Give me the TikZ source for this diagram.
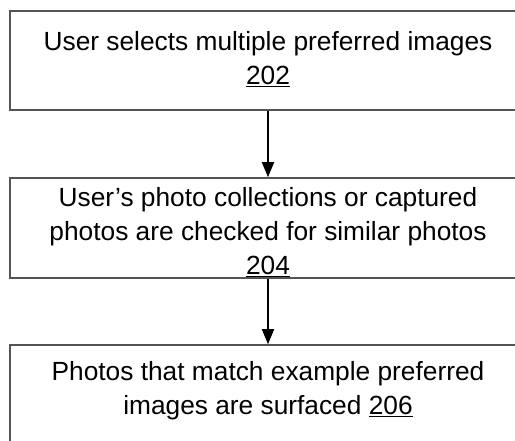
\documentclass[tikz,border=0pt]{standalone}
\usepackage{fontspec}
\setmainfont{Liberation Sans}
\usetikzlibrary{positioning}
\usetikzlibrary{arrows.meta}
\definecolor{rahmen}{gray}{0.33}

\begin{document}
\begin{tikzpicture}[x=1pt, y=-1pt]
	
	\tikzset{>={Triangle[length=15pt,width=12pt]}}
	\tikzset{kasten/.style={draw=rahmen, line width=1.6pt, minimum width=516pt, minimum height=100pt, inner sep=0pt}}
	\tikzset{beschr/.style={align=center, inner sep=0pt, font=\fontsize{26.3}{34}\selectfont}}
	\tikzset{pfeil/.style={->, line width=1.8pt, black}}
	
	% Rahmen des Bildes
	\useasboundingbox (0,0) rectangle (515,441);
	
	% Kaesten
	\node[kasten, minimum height=99pt] (k1) at (268,60.5) {};
	\node[kasten] (k2) at (268,228) {};
	\node[kasten] (k3) at (268,395) {};
	
	% Texte
	\node[beschr, below=21pt of k1.north] (t1) {User selects multiple preferred images\\\underline{202}};
	\node[beschr, below=10pt of k2.north] (t2) {User’s photo collections or captured\\photos are checked for similar photos\\\underline{204}};
	\node[beschr, below=17pt of k3.north] (t3) {Photos that match example preferred\\images are surfaced \underline{206}};
	
	% Pfeile
	\draw[pfeil] (k1.south) -- (k2.north);
	\draw[pfeil] (k2.south) -- (k3.north);
	
\end{tikzpicture}
\end{document}
